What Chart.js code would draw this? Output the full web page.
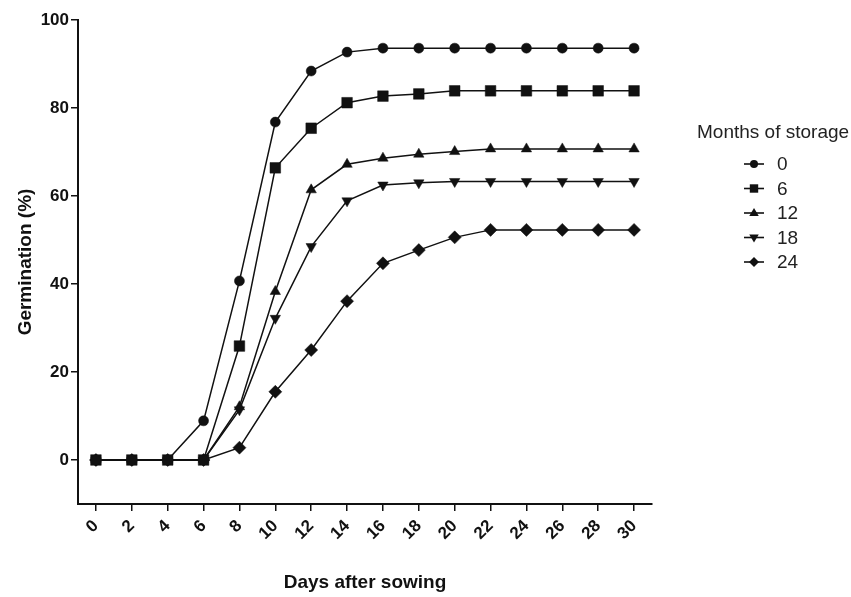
<!DOCTYPE html>
<html>
<head>
<meta charset="utf-8">
<script src="https://cdn.jsdelivr.net/npm/chart.js@4/dist/chart.umd.min.js"></script>
<style>
html,body{margin:0;padding:0;background:#fff;}
#wrap{width:851px;height:597px;position:relative;}
</style>
</head>
<body>
<div id="wrap"><canvas id="c" width="851" height="597"></canvas></div>
<script>
const days = [0, 2, 4, 6, 8, 10, 12, 14, 16, 18, 20, 22, 24, 26, 28, 30];
const xTicks = [0, 2, 4, 6, 8, 10, 12, 14, 16, 18, 20, 22, 24, 26, 28, 30];
const yTicks = [0, 20, 40, 60, 80, 100];
const seriesLabels = ['0', '6', '12', '18', '24'];
const m0  = [0, 0, 0, 8.9, 40.7, 76.8, 88.4, 92.7, 93.6, 93.6, 93.6, 93.6, 93.6, 93.6, 93.6, 93.6];
const m6  = [0, 0, 0, 0, 25.9, 66.4, 75.4, 81.2, 82.7, 83.2, 83.9, 83.9, 83.9, 83.9, 83.9, 83.9];
const m12 = [0, 0, 0, 0, 12.1, 38.3, 61.4, 67.2, 68.6, 69.5, 70.1, 70.7, 70.7, 70.7, 70.7, 70.7];
const m18 = [0, 0, 0, 0, 11.4, 32.2, 48.5, 58.9, 62.5, 63.0, 63.3, 63.3, 63.3, 63.3, 63.3, 63.3];
const m24 = [0, 0, 0, 0, 2.8, 15.5, 25.0, 36.1, 44.7, 47.7, 50.6, 52.3, 52.3, 52.3, 52.3, 52.3];
const legendTitle = 'Months of storage';
const xTitle = 'Days after sowing';
const yTitle = 'Germination (%)';

const styles = [
  {pointStyle: 'circle', pointRadius: 5, pointRotation: 0},
  {pointStyle: 'rect', pointRadius: 7.5, pointRotation: 0},
  {pointStyle: 'triangle', pointRadius: 6, pointRotation: 0},
  {pointStyle: 'triangle', pointRadius: 6, pointRotation: 180},
  {pointStyle: 'rectRot', pointRadius: 6.5, pointRotation: 0}
];
const allSeries = [m0, m6, m12, m18, m24];

const datasets = allSeries.map((s, i) => ({
  label: seriesLabels[i],
  data: days.map((d, k) => ({x: d, y: s[k]})),
  borderColor: '#111',
  backgroundColor: '#111',
  pointBackgroundColor: '#111',
  pointBorderColor: '#111',
  borderWidth: 1.5,
  pointBorderWidth: 0.5,
  tension: 0,
  pointStyle: styles[i].pointStyle,
  pointRadius: styles[i].pointRadius,
  pointRotation: styles[i].pointRotation
}));

function drawMarker(ctx, style, x, y, r, rot) {
  ctx.beginPath();
  if (style === 'circle') {
    ctx.arc(x, y, r, 0, Math.PI * 2);
  } else if (style === 'rect') {
    ctx.rect(x - r, y - r, 2 * r, 2 * r);
  } else if (style === 'rectRot') {
    ctx.moveTo(x, y - r); ctx.lineTo(x + r, y); ctx.lineTo(x, y + r); ctx.lineTo(x - r, y);
  } else if (style === 'triangle') {
    const s = rot === 180 ? -1 : 1;
    ctx.moveTo(x, y - s * r);
    ctx.lineTo(x + r * 0.95, y + s * r * 0.6);
    ctx.lineTo(x - r * 0.95, y + s * r * 0.6);
  }
  ctx.closePath();
  ctx.fill();
}

const legendPlugin = {
  id: 'customLegend',
  afterDraw(chart) {
    const ctx = chart.ctx;
    ctx.save();
    ctx.fillStyle = '#222';
    ctx.font = '19px "Liberation Sans", Arial, sans-serif';
    ctx.textBaseline = 'middle';
    ctx.textAlign = 'left';
    ctx.fillText(legendTitle, 697, 133);
    const sizes = [4, 4.2, 5, 5, 5];
    chart.data.datasets.forEach((ds, i) => {
      const y = 164 + i * 24.5;
      const cx = 754;
      ctx.strokeStyle = '#111';
      ctx.lineWidth = 1.6;
      ctx.beginPath();
      ctx.moveTo(cx - 10, y); ctx.lineTo(cx + 10, y);
      ctx.stroke();
      ctx.fillStyle = '#111';
      drawMarker(ctx, ds.pointStyle, cx, y, sizes[i], ds.pointRotation);
      ctx.fillStyle = '#222';
      ctx.fillText(ds.label, 777, y + 1);
    });
    ctx.restore();
  }
};

const fam = '"Liberation Sans", Arial, sans-serif';
const xTickFont = {family: fam, size: 17, weight: 'bold'};
const yTickFont = {family: fam, size: 17, weight: 'bold'};
const titleFont = {family: fam, size: 19, weight: 'bold'};

new Chart(document.getElementById('c'), {
  type: 'line',
  data: {datasets},
  options: {
    responsive: false,
    animation: false,
    layout: {padding: {top: 20, right: 199, bottom: 0, left: 0}},
    plugins: {legend: {display: false}, tooltip: {enabled: false}},
    scales: {
      x: {
        type: 'linear',
        min: -1, max: 31,
        afterBuildTicks: (axis) => { axis.ticks = xTicks.map(v => ({value: v})); },
        afterFit: (axis) => { axis.height = 93; },
        ticks: {color: '#111', font: xTickFont, minRotation: 45, maxRotation: 45, padding: 5, autoSkip: false},
        grid: {display: true, drawOnChartArea: false, drawTicks: true, tickLength: 7, color: '#111', lineWidth: 1.5},
        border: {display: true, color: '#111', width: 2},
        title: {display: true, text: xTitle, color: '#111', font: titleFont, padding: {top: 0, bottom: 3}}
      },
      y: {
        type: 'linear',
        min: -10, max: 100,
        afterBuildTicks: (axis) => { axis.ticks = yTicks.map(v => ({value: v})); },
        afterFit: (axis) => { axis.width = 78; },
        ticks: {color: '#111', font: yTickFont, padding: 2},
        grid: {display: true, drawOnChartArea: false, drawTicks: true, tickLength: 7, color: '#111', lineWidth: 1.5},
        border: {display: true, color: '#111', width: 2},
        title: {display: true, text: yTitle, color: '#111', font: titleFont, padding: {top: 14, bottom: 0}}
      }
    }
  },
  plugins: [legendPlugin]
});
</script>
</body>
</html>
